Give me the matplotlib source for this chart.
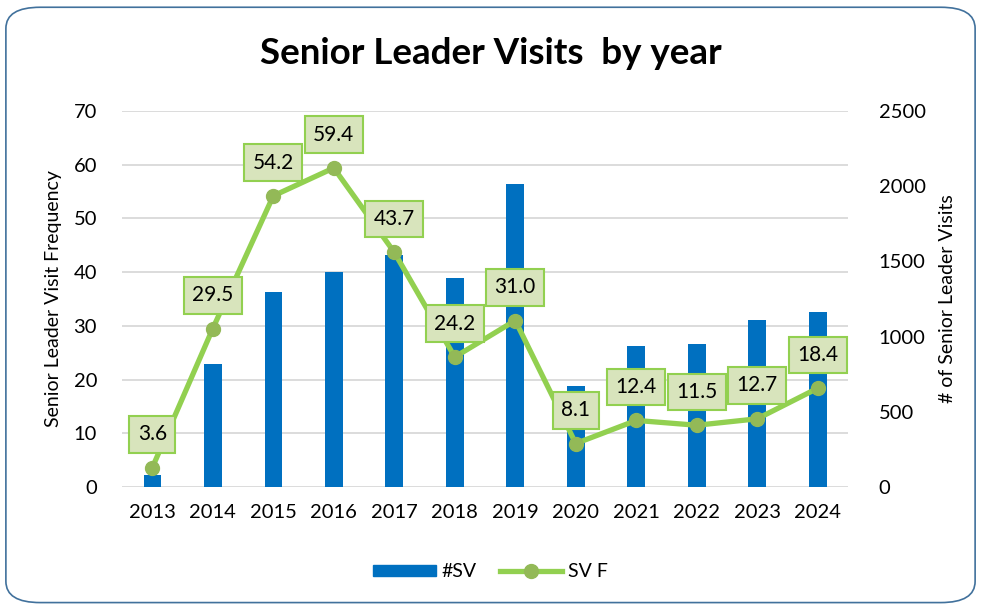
import matplotlib
matplotlib.use("Agg")
import numpy as np
import matplotlib.pyplot as plt
from matplotlib.patches import FancyBboxPatch, Patch
from matplotlib.lines import Line2D

plt.rcParams['font.family'] = ['Lato', 'DejaVu Sans']

years = ['2013', '2014', '2015', '2016', '2017', '2018',
         '2019', '2020', '2021', '2022', '2023', '2024']
sv_count = [80, 818, 1297, 1430, 1543, 1388, 2013, 672, 937, 951, 1110, 1164]
sv_freq = [3.6, 29.5, 54.2, 59.4, 43.7, 24.2, 31.0, 8.1, 12.4, 11.5, 12.7, 18.4]

blue = '#0070C0'
green = '#92D050'
marker_green = '#93B957'
box_fill = '#D8E4BC'

fig = plt.figure(figsize=(9.81, 6.05), dpi=100)

# rounded border of the chart area
border = FancyBboxPatch((0.006, 0.004), 0.988, 0.984,
                        boxstyle='round,pad=0,rounding_size=0.035',
                        transform=fig.transFigure, facecolor='white',
                        edgecolor='#41719C', linewidth=1.2, zorder=-1)
fig.patches.append(border)

ax = fig.add_axes([0.1244, 0.195, 0.74, 0.6215])
ax2 = ax.twinx()

x = np.arange(len(years))

# bars on the secondary axis, line on the primary one
ax2.bar(x, sv_count, width=0.29, color=blue, zorder=2)
ax2.set_ylim(0, 2500)
ax2.set_yticks(range(0, 2501, 500))

ax.set_zorder(ax2.get_zorder() + 1)
ax.patch.set_visible(False)
ax.plot(x, sv_freq, color=green, linewidth=3.8, marker='o', markersize=10,
        markerfacecolor=marker_green, markeredgecolor=marker_green, zorder=3)
ax.set_ylim(0, 70)
ax.set_yticks(range(0, 71, 10))
ax.set_xlim(-0.5, len(years) - 0.5)
ax.set_xticks(x)
ax.set_xticklabels(years)

for xi, v in zip(x, sv_freq):
    ax.annotate(f'{v:.1f}', (xi, v), xytext=(0, 24), textcoords='offset points',
                ha='center', va='center', fontsize=15, color='black', zorder=4,
                bbox=dict(boxstyle='square,pad=0.4', facecolor=box_fill,
                          edgecolor=green, linewidth=1.5))

for v in range(0, 71, 10):
    ax2.axhline(v * 2500 / 70, color='#D9D9D9', linewidth=1.3, zorder=0)

for a in (ax, ax2):
    for s in a.spines.values():
        s.set_visible(False)
    a.tick_params(length=0, labelsize=14.5, colors='black')

ax.tick_params(axis='y', pad=18)
ax.tick_params(axis='x', pad=12)
ax2.tick_params(axis='y', pad=22)

ax.set_ylabel('Senior Leader Visit Frequency', fontsize=14, labelpad=8)
ax2.set_ylabel('# of Senior Leader Visits', fontsize=14, rotation=90,
               labelpad=10)

fig.text(0.5, 0.912, 'Senior Leader Visits  by year', ha='center',
         va='center', fontsize=26.5, fontweight='bold')

handles = [Patch(facecolor=blue, edgecolor=blue),
           Line2D([0], [0], color=green, linewidth=3.8, marker='o',
                  markersize=10, markerfacecolor=marker_green,
                  markeredgecolor=marker_green)]
fig.legend(handles, ['#SV', 'SV F'], loc='center', bbox_to_anchor=(0.5, 0.055),
           ncol=2, frameon=False, fontsize=14, handlelength=3.2,
           handleheight=0.5, columnspacing=1.2, handletextpad=0.3)

fig.savefig('out.png', dpi=100)
